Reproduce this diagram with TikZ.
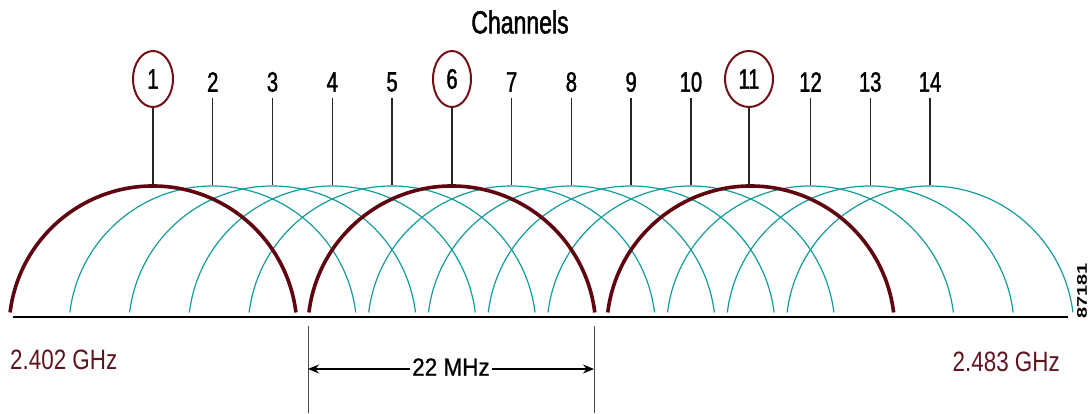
\documentclass[tikz,border=0pt]{standalone}
\usepackage{fontspec}
\setmainfont{Liberation Sans}
\newfontfamily\chfont[FakeStretch=0.72,FakeBold=1.4]{Liberation Sans}
\newfontfamily\ghzfont[FakeStretch=0.8]{Liberation Sans}
\newfontfamily\mhzfont[FakeStretch=0.9,FakeBold=0.8]{Liberation Sans}
\usetikzlibrary{arrows.meta,shapes.geometric}
\definecolor{wifiteal}{RGB}{20,155,158}
\definecolor{chanred}{RGB}{95,5,15}
\definecolor{circred}{RGB}{115,15,25}
\definecolor{labred}{RGB}{95,20,30}
\begin{document}
\begin{tikzpicture}[x=1pt,y=1pt,
  lobe/.style={wifiteal, line width=1.2pt},
  mainlobe/.style={chanred, line width=3.6pt},
  chnum/.style={font=\chfont\fontsize{28}{30}\selectfont, inner sep=0pt},
  chcirc/.style={chnum, draw=circred, line width=2pt, ellipse, minimum height=56pt},
  tickline/.style={black!85, line width=1.4pt},
  axisline/.style={black, line width=2pt},
  guide/.style={black!70, line width=0.9pt},
  dimarrow/.style={black, line width=1.4pt, -{Stealth[length=11pt,width=9pt]}},
  freqlabel/.style={labred, font=\ghzfont\fontsize{28}{30}\selectfont, inner sep=0pt},
  titlelabel/.style={font=\chfont\fontsize{32}{34}\selectfont, inner sep=0pt},
  mhzlabel/.style={font=\mhzfont\fontsize{25}{27}\selectfont, inner sep=2pt}
]
\useasboundingbox (0,0) rectangle (1089,413);

% teal lobes
\foreach \c in {2,3,4,5,7,8,9,10,12,13,14}{
  \pgfmathsetmacro{\xc}{153+59.77*(\c-1)}
  \draw[lobe] (\xc,83) ++(173:144) arc[start angle=173, end angle=7, radius=144];
}
% non-overlapping channels
\foreach \c in {1,6,11}{
  \pgfmathsetmacro{\xc}{153+59.77*(\c-1)}
  \draw[mainlobe] (\xc,83) ++(173:144) arc[start angle=173, end angle=7, radius=144];
}

% axis
\draw[axisline] (13,96) -- (1068,96);

% title
\node[titlelabel] (title) at (520,391) {Channels};

% channel numbers and ticks
\foreach \c in {2,3,4,5,7,8,9,10,12,13,14}{
  \pgfmathsetmacro{\xc}{153+59.77*(\c-1)}
  \node[chnum] (n\c) at (\xc,331) {\c};
  \coordinate (top\c) at (\xc,228);
  \draw[tickline, shorten <=6pt] (n\c.south) -- (top\c);
}
\node[chcirc, minimum width=40pt] (n1) at (153,334) {1};
\node[chcirc, minimum width=38pt] (n6) at (452,334) {6};
\node[chcirc, minimum width=48pt] (n11) at (749,334) {11};
\foreach \c/\xc in {1/153,6/452,11/749}{
  \coordinate (top\c) at (\xc,228);
  \draw[tickline] (n\c.south) -- (top\c);
}

% frequency labels
\node[freqlabel, anchor=west] (flow) at (10,53) {2.402 GHz};
\node[freqlabel, anchor=east] (fhigh) at (1060,51) {2.483 GHz};

% bandwidth dimension
\coordinate (gLtop) at (308,87);
\coordinate (gLbot) at (308,0);
\coordinate (gRtop) at (594,87);
\coordinate (gRbot) at (594,0);
\draw[guide] (gLtop) -- (gLbot);
\draw[guide] (gRtop) -- (gRbot);
\node[mhzlabel] (mhz) at (451,46) {22 MHz};
\coordinate (aL) at (308,44);
\coordinate (aR) at (594,44);
\draw[dimarrow] (mhz.west |- aL) -- (aL);
\draw[dimarrow] (mhz.east |- aR) -- (aR);

% figure code
\node[rotate=90, inner sep=0pt, font=\bfseries\fontsize{20}{22}\selectfont] (code) at (1082,122) {\scalebox{1}[0.7]{87181}};
\end{tikzpicture}
\end{document}
